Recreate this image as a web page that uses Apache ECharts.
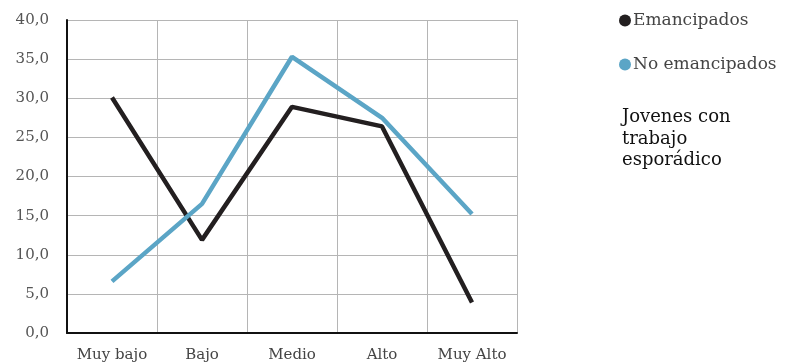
<!DOCTYPE html>
<html>
<head>
<meta charset="utf-8">
<script src="https://cdn.jsdelivr.net/npm/echarts@6/dist/echarts.min.js"></script>
<style>
  html, body { margin: 0; padding: 0; background: #fff; }
  #main { width: 786px; height: 364px; }
</style>
</head>
<body>
<div id="main"></div>
<script>
var categories = ['Muy bajo', 'Bajo', 'Medio', 'Alto', 'Muy Alto'];
var emancipados = [30.1, 11.9, 28.9, 26.4, 3.9];
var noEmancipados = [6.6, 16.5, 35.3, 27.5, 15.2];
var seriesNames = ['Emancipados', 'No emancipados'];
var subtitle = 'Jovenes con\ntrabajo\nesporádico';

var chartDom = document.getElementById('main');
var myChart = echarts.init(chartDom);
var option;

option = {
    animation: false,
    backgroundColor: '#fff',
    color: ['#231f20', '#5ba5c6'],
    textStyle: { fontFamily: 'DejaVu Serif' },
    legend: {
        orient: 'vertical',
        left: 614,
        top: 7,
        itemGap: 27,
        icon: 'circle',
        itemWidth: 12,
        itemHeight: 12,
        textStyle: {
            color: '#444',
            fontSize: 17,
            fontFamily: 'DejaVu Serif',
            padding: [0, 0, 0, -3]
        },
        data: seriesNames
    },
    graphic: [
        {
            type: 'text',
            left: 622,
            top: 107,
            style: {
                text: subtitle,
                fontFamily: 'DejaVu Serif',
                fontSize: 18,
                lineHeight: 21.5,
                fill: '#111'
            }
        }
    ],
    grid: {
        left: 67,
        right: 269,
        top: 20,
        bottom: 31
    },
    xAxis: {
        type: 'category',
        data: categories,
        boundaryGap: true,
        axisLine: { lineStyle: { color: '#111', width: 2 } },
        axisTick: { show: false },
        axisLabel: {
            interval: 0,
            color: '#444',
            fontSize: 15,
            margin: 15,
            fontFamily: 'DejaVu Serif'
        },
        splitLine: { show: true, interval: 0, lineStyle: { color: '#b5b5b5', width: 1 } }
    },
    yAxis: {
        type: 'value',
        min: 0,
        max: 40,
        interval: 5,
        axisLine: { show: true, lineStyle: { color: '#111', width: 2 } },
        axisTick: { show: false },
        axisLabel: {
            color: '#555',
            fontSize: 15,
            margin: 18,
            fontFamily: 'DejaVu Serif',
            formatter: function (v) { return v.toFixed(1).replace('.', ','); }
        },
        splitLine: { lineStyle: { color: '#b5b5b5', width: 1 } }
    },
    series: [
        {
            name: seriesNames[0],
            type: 'line',
            data: emancipados,
            symbol: 'none',
            lineStyle: { width: 4.5, color: '#231f20' },
            itemStyle: { color: '#231f20' }
        },
        {
            name: seriesNames[1],
            type: 'line',
            data: noEmancipados,
            symbol: 'none',
            lineStyle: { width: 4.5, color: '#5ba5c6' },
            itemStyle: { color: '#5ba5c6' }
        }
    ]
};

option && myChart.setOption(option);
</script>
</body>
</html>
